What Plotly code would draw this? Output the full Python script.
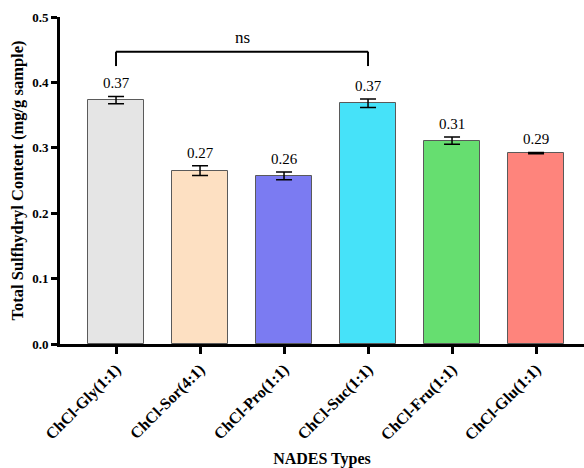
import plotly.graph_objects as go

categories = ["ChCl-Gly(1:1)", "ChCl-Sor(4:1)", "ChCl-Pro(1:1)",
              "ChCl-Suc(1:1)", "ChCl-Fru(1:1)", "ChCl-Glu(1:1)"]
values = [0.373, 0.265, 0.257, 0.368, 0.311, 0.292]
errors = [0.0055, 0.0075, 0.006, 0.0065, 0.0055, 0.001]
labels = ["0.37", "0.27", "0.26", "0.37", "0.31", "0.29"]
colors = ["#e5e5e5", "#fde0c2", "#7b7bf2", "#46e2f9", "#66de70", "#fe847c"]
yticks = [0.0, 0.1, 0.2, 0.3, 0.4, 0.5]
bracket = {"start": 0, "end": 3, "top": 0.447, "bottom": 0.425, "text": "ns", "text_y": 0.468}

FONT = "Liberation Serif, Times New Roman, serif"
xs = list(range(len(categories)))

fig = go.Figure()
fig.add_trace(go.Bar(
    x=xs, y=values, width=0.667,
    marker=dict(color=colors, line=dict(color="#5a5a5a", width=1)),
    error_y=dict(type="data", array=errors, visible=True, color="black", thickness=1.5, width=8),
    showlegend=False,
))

for x, v, e, t in zip(xs, values, errors, labels):
    fig.add_annotation(x=x, y=v + e, xref="x", yref="y", text=t, showarrow=False,
                       yanchor="bottom", yshift=3,
                       font=dict(family=FONT, size=15, color="black"))

fig.add_shape(type="line", xref="x", yref="y",
              x0=bracket["start"], x1=bracket["start"], y0=bracket["bottom"], y1=bracket["top"],
              line=dict(color="black", width=2))
fig.add_shape(type="line", xref="x", yref="y",
              x0=bracket["start"], x1=bracket["end"], y0=bracket["top"], y1=bracket["top"],
              line=dict(color="black", width=2))
fig.add_shape(type="line", xref="x", yref="y",
              x0=bracket["end"], x1=bracket["end"], y0=bracket["bottom"], y1=bracket["top"],
              line=dict(color="black", width=2))
fig.add_annotation(x=(bracket["start"] + bracket["end"]) / 2, y=bracket["text_y"],
                   xref="x", yref="y", text=bracket["text"], showarrow=False,
                   font=dict(family=FONT, size=17, color="black"))

fig.update_layout(
    width=584, height=468,
    margin=dict(l=60, r=0, t=17, b=124, autoexpand=False),
    paper_bgcolor="white", plot_bgcolor="white",
    font=dict(family=FONT, color="black"),
    bargap=0,
)
fig.update_xaxes(
    range=[-0.667, 5.571], tickmode="array", tickvals=xs,
    ticktext=["<b>%s</b>" % c for c in categories],
    tickangle=-45, tickfont=dict(family=FONT, size=16, color="black"),
    showline=True, linecolor="black", linewidth=3,
    ticks="outside", ticklen=7, tickwidth=3, tickcolor="black",
    showgrid=False, zeroline=False, automargin=False,
    title=dict(text="<b>NADES Types</b>", font=dict(family=FONT, size=16, color="black"), standoff=10),
)
fig.update_yaxes(
    range=[0, 0.5], tickmode="array", tickvals=yticks,
    ticktext=["<b>%.1f</b>" % t for t in yticks],
    tickfont=dict(family=FONT, size=13, color="black"),
    showline=True, linecolor="black", linewidth=3,
    ticks="outside", ticklen=6, tickwidth=3, tickcolor="black",
    showgrid=False, zeroline=False, automargin=False,
    title=dict(text="<b>Total Sulfhydryl Content (mg/g sample)</b>", font=dict(family=FONT, size=16.5, color="black"), standoff=5),
)

fig.write_html("out.html", config={"displayModeBar": False},
               post_script="document.body.style.margin='0';document.body.style.overflow='hidden';")
